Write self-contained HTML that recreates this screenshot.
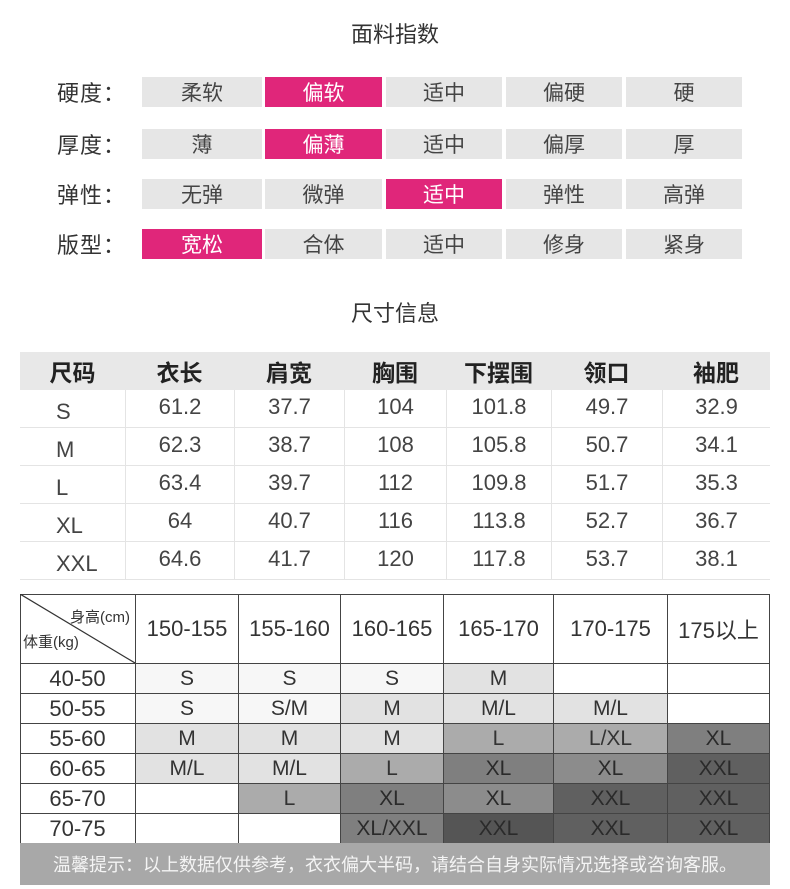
<!DOCTYPE html><html><head><meta charset="utf-8"><style>
body{margin:0;width:790px;height:889px;background:#fff;position:relative;overflow:hidden;font-family:"Liberation Sans","Noto Sans CJK SC",sans-serif;color:#333}
.a{position:absolute;box-sizing:border-box;display:flex;align-items:center;justify-content:center}
</style></head><body>
<div class="a" style="left:0;width:790px;top:16px;height:34px;font-size:22px">面料指数</div>
<div class="a" style="left:0;width:790px;top:295px;height:34px;font-size:22px">尺寸信息</div>
<div id="top"></div>
<div id="t2"></div>
<div id="t3"></div>
<script>
var h='';
var rows=[["硬度：",["柔软","偏软","适中","偏硬","硬"],1,77],["厚度：",["薄","偏薄","适中","偏厚","厚"],1,129],["弹性：",["无弹","微弹","适中","弹性","高弹"],2,179],["版型：",["宽松","合体","适中","修身","紧身"],0,229]];
var xs=[[142,262],[265,382],[386,502],[506,622],[626,742]];
rows.forEach(function(r){h+='<div class="a" style="left:57px;width:80px;top:'+r[3]+'px;height:30px;font-size:22px;letter-spacing:1px;justify-content:flex-start">'+r[0]+'</div>';
r[1].forEach(function(t,i){var p=i==r[2];h+='<div class="a" style="left:'+xs[i][0]+'px;width:'+(xs[i][1]-xs[i][0])+'px;top:'+r[3]+'px;height:30px;font-size:21px;background:'+(p?'#e0267a':'#e6e6e6')+';color:'+(p?'#fff':'#444')+'">'+t+'</div>';});});
document.getElementById('top').outerHTML=h;
h='';var cx=[20,125,234,344,446,551,662,770];var ry=[352,390,428,466,504,542,580];
h+='<div class="a" style="left:20px;width:750px;top:352px;height:38px;background:#e8e8e8"></div>';
var hd=["尺码","衣长","肩宽","胸围","下摆围","领口","袖肥"];
var d=[["S","61.2","37.7","104","101.8","49.7","32.9"],["M","62.3","38.7","108","105.8","50.7","34.1"],["L","63.4","39.7","112","109.8","51.7","35.3"],["XL","64","40.7","116","113.8","52.7","36.7"],["XXL","64.6","41.7","120","117.8","53.7","38.1"]];
hd.forEach(function(t,i){h+='<div class="a" style="left:'+cx[i]+'px;width:'+(cx[i+1]-cx[i])+'px;top:352px;height:38px;font-size:23px;font-weight:bold;color:#222">'+t+'</div>';});
d.forEach(function(r,j){r.forEach(function(t,i){h+='<div class="a" style="left:'+cx[i]+'px;width:'+(cx[i+1]-cx[i])+'px;top:'+ry[j+1]+'px;height:38px;font-size:22px;color:#444;border-bottom:1px solid #e4e4e4;'+(i>0?'border-left:1px solid #e4e4e4;':'')+(i==0?'justify-content:flex-start;padding-left:36px;':'')+(i==0?'padding-top:6px':'padding-bottom:4px')+'">'+t+'</div>';});});
document.getElementById('t2').outerHTML=h;
h='';var fx=[20,135,238,340,443,553,667,770];var fy=[594,663,693,723,753,783,813,843];
var hh=["","150-155","155-160","160-165","165-170","170-175","175以上"];
var C={a:'#f7f7f7',b:'#e2e2e2',c:'#ababab',d:'#7f7f7f',e:'#8c8c8c',f:'#606060',g:'#555555',w:'#fff'};
var g=[["40-50",["S","a"],["S","a"],["S","a"],["M","b"],["","w"],["","w"]],
["50-55",["S","a"],["S/M","a"],["M","b"],["M/L","b"],["M/L","b"],["","w"]],
["55-60",["M","b"],["M","b"],["M","b"],["L","c"],["L/XL","c"],["XL","d"]],
["60-65",["M/L","b"],["M/L","b"],["L","c"],["XL","d"],["XL","e"],["XXL","f"]],
["65-70",["","w"],["L","c"],["XL","d"],["XL","e"],["XXL","f"],["XXL","f"]],
["70-75",["","w"],["","w"],["XL/XXL","d"],["XXL","g"],["XXL","f"],["XXL","f"]]];
h+='<div class="a" style="left:20px;width:750px;top:594px;height:250px;border:1px solid #444;border-right:none;"></div>';
for(var i=1;i<7;i++)h+='<div class="a" style="left:'+fx[i]+'px;width:'+(fx[i+1]-fx[i])+'px;top:594px;height:69px;font-size:22px;color:#333;border-left:1px solid #444;border-right:'+(i==6?'1px solid #444':'none')+'">'+hh[i]+'</div>';
h+='<svg class="a" style="left:20px;top:594px" width="115" height="69"><line x1="0" y1="0" x2="115" y2="69" stroke="#333" stroke-width="1.2"/><text x="50" y="28" font-size="15" fill="#333">身高(cm)</text><text x="3" y="53" font-size="15" fill="#333">体重(kg)</text></svg>';
g.forEach(function(r,j){var y=fy[j+1];h+='<div class="a" style="left:20px;width:115px;top:'+y+'px;height:30px;font-size:22px;border-top:1px solid #444;color:#333">'+r[0]+'</div>';
for(var i=1;i<7;i++){var c=r[i][1];var dark=c=='d'||c=='f'||c=='g'||c=='e';h+='<div class="a" style="left:'+fx[i]+'px;width:'+(fx[i+1]-fx[i])+'px;top:'+y+'px;height:30px;font-size:21px;background:'+C[c]+';color:'+(dark?'#2a2a2a':'#333')+';border-top:1px solid #444;border-left:1px solid #444;'+(i==6?'border-right:1px solid #444':'')+'">'+r[i][0]+'</div>';}});
h+='<div class="a" style="left:20px;width:750px;top:843px;height:42px;background:#a8a8a8;color:#f4f4f4;font-size:18px">温馨提示：以上数据仅供参考，衣衣偏大半码，请结合自身实际情况选择或咨询客服。</div>';
document.getElementById('t3').outerHTML=h;
</script>
</body></html>
